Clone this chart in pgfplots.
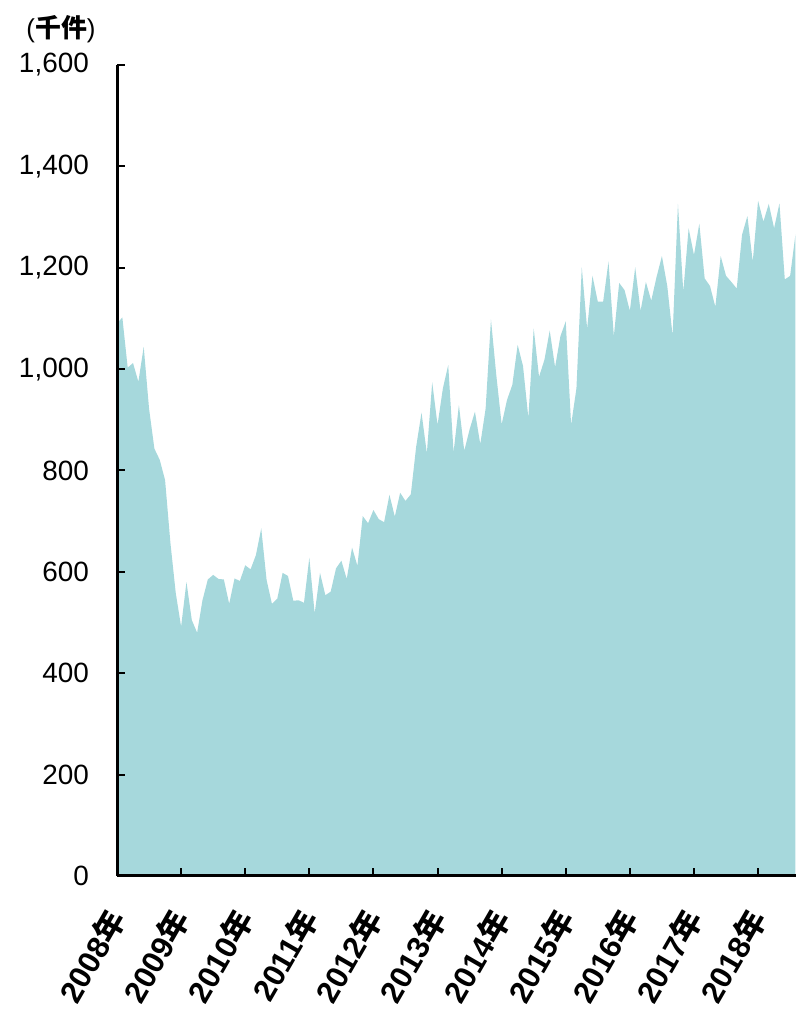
\documentclass[border=0pt]{standalone}
\usepackage{pgfplots}
\pgfplotsset{compat=1.18}
\usepackage{fontspec}
\setmainfont{Liberation Sans}
\newfontfamily\cjk{Noto Sans CJK JP}
\definecolor{areac}{HTML}{A6D8DC}
\newcommand{\nen}{{\cjk 年}}
\begin{document}
\begin{tikzpicture}[x=1bp,y=1bp]
\useasboundingbox (0,0) rectangle (796,1012);
\begin{axis}[
  at={(117bp,136bp)}, anchor=south west,
  scale only axis, width=679bp, height=811bp,
  xmin=0, xmax=127.1, ymin=0, ymax=1600,
  axis x line*=bottom, axis y line*=left,
  axis line style={line width=3bp, black},
  axis on top,
  tick align=inside,
  major tick length=8bp,
  tick style={line width=2bp, black},
  xtick={0,12,...,120},
  xticklabels={2008\nen,2009\nen,2010\nen,2011\nen,2012\nen,2013\nen,2014\nen,2015\nen,2016\nen,2017\nen,2018\nen},
  xticklabel style={rotate=60, anchor=east, font=\fontsize{31}{31}\selectfont\bfseries, inner sep=0pt},
  xticklabel shift=37bp,
  ytick={0,200,...,1600},
  yticklabel style={font=\fontsize{28}{28}\selectfont, inner sep=0pt, anchor=east},
  yticklabel shift=28bp,
  /pgf/number format/assume math mode=true,
  /pgf/number format/.cd, 1000 sep={,},
]
\addplot[fill=areac, draw=none] table {
x y
0 1090
1 1102
2 1003
3 1012
4 975
5 1044
6 922
7 843
8 821
9 781
10 657
11 558
12 492
13 580
14 505
15 480
16 544
17 585
18 594
19 586
20 585
21 537
22 587
23 582
24 613
25 605
26 633
27 686
28 584
29 537
30 547
31 598
32 592
33 543
34 544
35 539
36 628
37 518
38 598
39 554
40 561
41 607
42 622
43 586
44 648
45 612
46 710
47 696
48 722
49 704
50 698
51 752
52 709
53 756
54 740
55 753
56 847
57 914
58 834
59 974
60 890
61 962
62 1008
63 836
64 929
65 839
66 881
67 916
68 852
69 922
70 1098
71 988
72 891
73 939
74 969
75 1048
76 1006
77 904
78 1080
79 985
80 1018
81 1076
82 1004
83 1065
84 1094
85 890
86 962
87 1201
88 1080
89 1184
90 1133
91 1133
92 1212
93 1065
94 1170
95 1156
96 1115
97 1201
98 1115
99 1172
100 1135
101 1182
102 1223
103 1164
104 1066
105 1326
106 1153
107 1278
108 1225
109 1287
110 1179
111 1164
112 1123
113 1223
114 1184
115 1172
116 1159
117 1265
118 1302
119 1212
120 1332
121 1291
122 1326
123 1278
124 1327
125 1177
126 1184
127 1266
} \closedcycle;
\end{axis}
\node[font=\fontsize{26}{26}\selectfont, inner sep=0pt] at (61,983) {({\cjk\bfseries 千件})};
\end{tikzpicture}
\end{document}
